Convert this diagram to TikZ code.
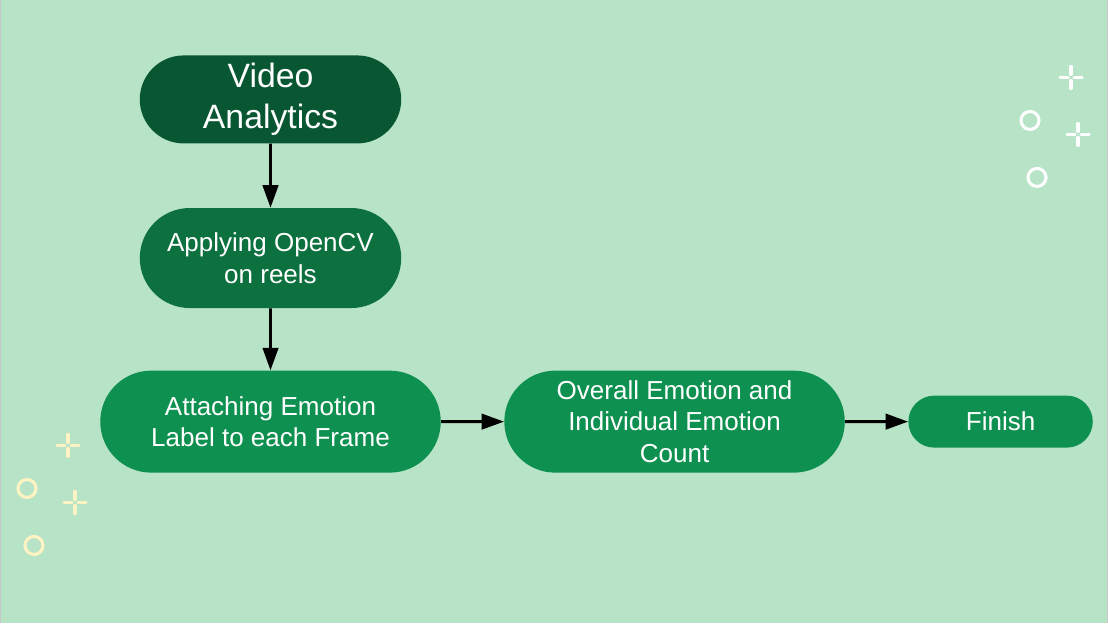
\documentclass[tikz,border=0pt]{standalone}
\usepackage{fontspec}
\setmainfont{Liberation Sans}
\usetikzlibrary{shapes.misc, arrows.meta, positioning}
\definecolor{bgmint}{RGB}{183,227,199}
\definecolor{darknode}{RGB}{8,86,50}
\definecolor{midnode}{RGB}{13,112,63}
\definecolor{brightnode}{RGB}{14,145,80}
\definecolor{paleyellow}{RGB}{255,243,196}
\tikzset{
  pill/.style={
    rounded rectangle, draw=none, text=white, align=center,
    inner sep=2pt, font=\fontsize{18.5}{22.5}\selectfont
  },
  topnd/.style={pill, fill=darknode, minimum width=6.675cm,
    minimum height=2.2cm, font=\fontsize{24}{29}\selectfont},
  midnd/.style={pill, fill=midnode,    minimum width=6.675cm, minimum height=2.5cm},
  brnd/.style={pill,  fill=brightnode, minimum width=8.65cm,  minimum height=2.55cm},
  endnd/.style={pill, fill=brightnode, minimum width=4.75cm,  minimum height=1.3cm},
  arr/.style={-{Triangle[length=16pt, width=11pt]}, line width=2pt, black},
  spark/.pic={
    \draw[line width=2.2pt, line cap=round, #1]
      (-11,0) -- (-3,0) (3,0) -- (11,0) (0,-11) -- (0,-3) (0,3) -- (0,11);
  },
  ring/.style={line width=2.2pt, draw=#1}
}
\begin{document}
\begin{tikzpicture}[x=0.025cm, y=-0.025cm, node distance=1.6cm and 1.575cm]

  %% background
  \fill[bgmint] (0,0) rectangle (1108,623);
  \draw[gray!45, line width=0.6pt] (0.5,0) -- (0.5,623) (1107.5,0) -- (1107.5,623);
  \useasboundingbox (0,0) rectangle (1108,623);

  %% main flow
  \node[topnd] (video) at (270.5,99) {Video\\Analytics};
  \node[midnd, below=of video] (opencv) {Applying OpenCV\\on reels};
  \node[brnd, below=1.55cm of opencv] (attach) {Attaching Emotion\\Label to each Frame};
  \node[brnd, right=of attach] (count) {Overall Emotion and\\Individual Emotion\\Count};
  \node[endnd, right=of count] (finish) {Finish};

  \draw[arr] (video)  -- (opencv);
  \draw[arr] (opencv) -- (attach);
  \draw[arr] (attach) -- (count);
  \draw[arr] (count)  -- (finish);

  %% decorations
  \pic at (1071,77)  {spark=white};
  \pic at (1078,134) {spark=white};
  \draw[ring=white] (1030,120) circle (9);
  \draw[ring=white] (1037,177) circle (9);

  \pic at (68,445)  {spark=paleyellow};
  \pic at (75,502)  {spark=paleyellow};
  \draw[ring=paleyellow] (27,488) circle (9);
  \draw[ring=paleyellow] (34,545) circle (9);

\end{tikzpicture}
\end{document}
